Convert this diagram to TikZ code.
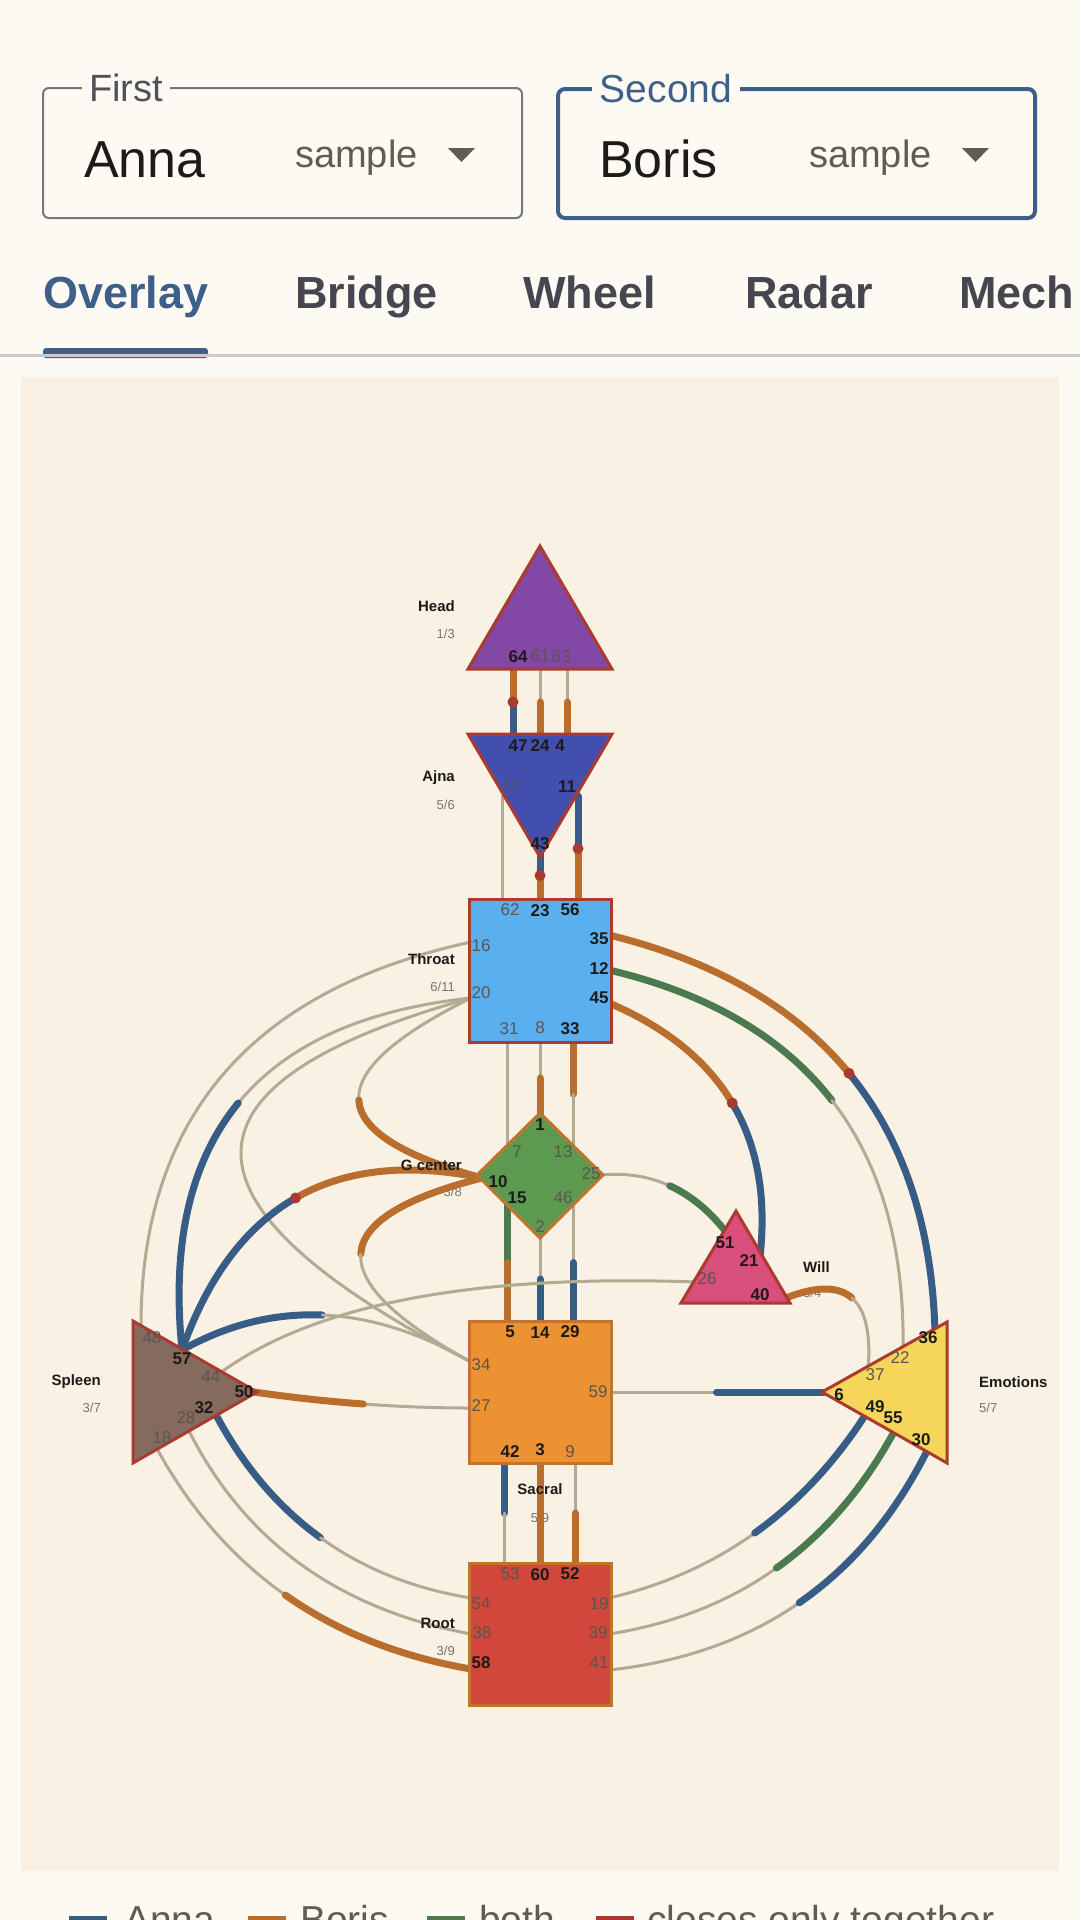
\documentclass[tikz,border=0pt]{standalone}
\usepackage{fontspec}
\setmainfont{Liberation Sans}
\usetikzlibrary{calc}

\definecolor{page}{HTML}{FDFAF3}
\definecolor{panel}{HTML}{F8F1E4}
\definecolor{annac}{HTML}{375D87}
\definecolor{borisc}{HTML}{B96E2E}
\definecolor{bothc}{HTML}{4A7A4E}
\definecolor{idlec}{HTML}{B4AA93}
\definecolor{togetherc}{HTML}{A83A2F}
\definecolor{rim}{HTML}{AB3B2F}
\definecolor{rimdef}{HTML}{C07430}
\definecolor{headc}{HTML}{8347A6}
\definecolor{ajnac}{HTML}{424FAE}
\definecolor{throatc}{HTML}{5AAFEE}
\definecolor{gc}{HTML}{5C9A4F}
\definecolor{willc}{HTML}{D84F7B}
\definecolor{spleenc}{HTML}{856A5F}
\definecolor{sacralc}{HTML}{EC9232}
\definecolor{emoc}{HTML}{F5D65A}
\definecolor{rootc}{HTML}{D1473B}
\definecolor{ink}{HTML}{1D1B1A}
\definecolor{dim}{HTML}{5A5550}
\definecolor{faint}{HTML}{7A746C}
\definecolor{uiblue}{HTML}{3D5F8A}
\definecolor{uigray}{HTML}{76767C}
\definecolor{labelgray}{HTML}{505056}
\definecolor{tabgray}{HTML}{45464F}
\definecolor{hint}{HTML}{625B52}
\definecolor{divider}{HTML}{CBCBCF}

\tikzset{
	annaline/.style={draw=annac, line width=7pt, line cap=round},
	borisline/.style={draw=borisc, line width=7pt, line cap=round},
	bothline/.style={draw=bothc, line width=7pt, line cap=round},
	idleline/.style={draw=idlec, line width=3pt, line cap=round},
	cbox/.style={line width=3pt, line join=miter},
	gon/.style={inner sep=0pt, text=ink, font=\fontsize{17}{17}\selectfont\bfseries},
	goff/.style={inner sep=0pt, text=dim, font=\fontsize{17}{17}\selectfont},
	cname/.style={inner sep=0pt, text=ink, font=\fontsize{15}{15}\selectfont\bfseries},
	cfrac/.style={inner sep=0pt, text=faint, font=\fontsize{13}{13}\selectfont},
	tab/.style={inner sep=0pt, anchor=base west, text=tabgray, font=\fontsize{45}{45}\selectfont\bfseries},
	legendtext/.style={inner sep=0pt, anchor=base west, text=hint, font=\fontsize{39}{39}\selectfont},
}

\newcommand\link[4]{%
	\coordinate (half) at ($(#1)!.5!(#2)$);
	\draw[#3] (#1) -- (half);
	\draw[#4] (half) -- (#2);
}
\newcommand\chan[5]{%
	\coordinate (qa) at ($(#1)!.5!(#2)$);
	\coordinate (qb) at ($(#3)!.5!(#2)$);
	\coordinate (half) at ($(qa)!.5!(qb)$);
	\draw[#4] (#1) .. controls ($(#1)!2/3!(qa)$) and ($(half)!2/3!(qa)$) .. (half);
	\draw[#5] (half) .. controls ($(half)!2/3!(qb)$) and ($(#3)!2/3!(qb)$) .. (#3);
}

\begin{document}
\begin{tikzpicture}[x=1pt,y=-1pt]
	\useasboundingbox (0,0) rectangle (1080,1920);
	\fill[page] (0,0) rectangle (1080,1920);
	\fill[panel] (21,377) rectangle (1059,1871);

	\draw[uigray, line width=2pt, rounded corners=6pt] (43,88) rectangle (522,218);
	\node[fill=page, inner xsep=7pt, inner ysep=0pt, text=labelgray, font=\fontsize{38}{38}\selectfont] (first) at (126,88) {First};
	\node[inner sep=0pt, anchor=base west, text=ink, font=\fontsize{52}{52}\selectfont] (anna) at (84,177) {Anna};
	\node[inner sep=0pt, anchor=base west, text=hint, font=\fontsize{38}{38}\selectfont] (annasample) at (295,167) {sample};
	\fill[hint] (448,148) -- (475,148) -- (461.5,162) -- cycle;

	\draw[uiblue, line width=4pt, rounded corners=7pt] (558,89) rectangle (1035,218);
	\node[fill=page, inner xsep=8pt, inner ysep=0pt, text=uiblue, font=\fontsize{39}{39}\selectfont] (second) at (666,89) {Second};
	\node[inner sep=0pt, anchor=base west, text=ink, font=\fontsize{52}{52}\selectfont] (boris) at (599,177) {Boris};
	\node[inner sep=0pt, anchor=base west, text=hint, font=\fontsize{38}{38}\selectfont] (borissample) at (809,167) {sample};
	\fill[hint] (962,148) -- (989,148) -- (975.5,162) -- cycle;

	\node[tab, text=uiblue] (overlay) at (43,308) {Overlay};
	\node[tab] (bridge) at (295,308) {Bridge};
	\node[tab] (wheel) at (523,308) {Wheel};
	\node[tab] (radar) at (745,308) {Radar};
	\node[tab] (mech) at (959,308) {Mech};
	\fill[uiblue, rounded corners=3pt] (43,348) rectangle (208,358);
	\fill[divider] (0,354) rectangle (1080,357);

	\fill[annac] (69,1916) rectangle (107,1940);
	\node[legendtext] (keyanna) at (124,1933) {Anna};
	\fill[borisc] (248,1916) rectangle (286,1940);
	\node[legendtext] (keyboris) at (300,1933) {Boris};
	\fill[bothc] (427,1916) rectangle (465,1940);
	\node[legendtext] (keyboth) at (479,1933) {both};
	\fill[togetherc] (596,1916) rectangle (634,1940);
	\node[legendtext] (keytogether) at (647,1933) {closes only together};

	\node[cfrac, anchor=east] (headfrac) at (455,634) {1/3};
	\node[cfrac, anchor=east] (ajnafrac) at (455,805) {5/6};
	\node[cfrac, anchor=east] (throatfrac) at (455,987) {6/11};
	\node[cfrac, anchor=east] (gfrac) at (462,1192) {3/8};
	\node[cfrac, anchor=west] (willfrac) at (803,1293) {3/4};
	\node[cfrac, anchor=east] (spleenfrac) at (101,1408) {3/7};
	\node[cfrac, anchor=west] (emofrac) at (979,1408) {5/7};
	\node[cfrac] (sacralfrac) at (540,1518) {5/9};
	\node[cfrac, anchor=east] (rootfrac) at (455,1651) {3/9};

	\coordinate (g64) at (513,668);
	\coordinate (g61) at (540,668);
	\coordinate (g63) at (567,668);
	\coordinate (g47) at (513,736);
	\coordinate (g24) at (540,736);
	\coordinate (g4) at (567,736);
	\coordinate (g17) at (502,796);
	\coordinate (g11) at (578,796);
	\coordinate (g43) at (540,850);
	\coordinate (g62) at (502,901);
	\coordinate (g23) at (540,901);
	\coordinate (g56) at (578,901);
	\coordinate (g16) at (471,942);
	\coordinate (g20) at (471,998);
	\coordinate (g35) at (609,935);
	\coordinate (g12) at (609,970);
	\coordinate (g45) at (609,1003);
	\coordinate (g31) at (507,1040);
	\coordinate (g8) at (540,1040);
	\coordinate (g33) at (573,1040);
	\coordinate (g1) at (540,1116);
	\coordinate (g7) at (507,1148);
	\coordinate (g13) at (573,1148);
	\coordinate (g10) at (482,1178);
	\coordinate (g25) at (601,1175);
	\coordinate (g15) at (507,1202);
	\coordinate (g46) at (573,1202);
	\coordinate (g2) at (540,1235);
	\coordinate (g51) at (726,1232);
	\coordinate (g21) at (760,1257);
	\coordinate (g26) at (696,1282);
	\coordinate (g40) at (786,1298);
	\coordinate (g48) at (141,1328);
	\coordinate (g57) at (182,1350);
	\coordinate (g44) at (220,1373);
	\coordinate (g50) at (254,1392);
	\coordinate (g32) at (215,1413);
	\coordinate (g28) at (188,1429);
	\coordinate (g18) at (156,1447);
	\coordinate (g5) at (507,1323);
	\coordinate (g14) at (540,1323);
	\coordinate (g29) at (573,1323);
	\coordinate (g34) at (471,1362);
	\coordinate (g27) at (471,1408);
	\coordinate (g59) at (609,1392);
	\coordinate (g42) at (504,1461);
	\coordinate (g3) at (540,1461);
	\coordinate (g9) at (575,1461);
	\coordinate (g36) at (935,1332);
	\coordinate (g22) at (903,1350);
	\coordinate (g37) at (868,1370);
	\coordinate (g6) at (824,1392);
	\coordinate (g49) at (866,1414);
	\coordinate (g55) at (895,1430);
	\coordinate (g30) at (928,1449);
	\coordinate (g53) at (504,1565);
	\coordinate (g60) at (540,1565);
	\coordinate (g52) at (575,1565);
	\coordinate (g54) at (471,1598);
	\coordinate (g38) at (471,1634);
	\coordinate (g58) at (471,1669);
	\coordinate (g19) at (609,1598);
	\coordinate (g39) at (609,1634);
	\coordinate (g41) at (609,1670);

	\link{g64}{g47}{borisline}{annaline}
	\fill[togetherc] (half) circle[radius=5.5pt];
	\link{g61}{g24}{idleline}{borisline}
	\link{g63}{g4}{idleline}{borisline}
	\link{g17}{g62}{idleline}{idleline}
	\link{g43}{g23}{annaline}{borisline}
	\fill[togetherc] (half) circle[radius=5.5pt];
	\link{g11}{g56}{annaline}{borisline}
	\fill[togetherc] (half) circle[radius=5.5pt];
	\link{g31}{g7}{idleline}{idleline}
	\link{g8}{g1}{idleline}{borisline}
	\link{g33}{g13}{borisline}{idleline}
	\link{g15}{g5}{bothline}{borisline}
	\link{g2}{g14}{idleline}{annaline}
	\link{g46}{g29}{idleline}{annaline}
	\link{g42}{g53}{annaline}{idleline}
	\link{g3}{g60}{borisline}{borisline}
	\link{g9}{g52}{idleline}{borisline}
	\link{g59}{g6}{idleline}{annaline}

	\chan{g35}{926,1013}{g36}{borisline}{annaline}
	\fill[togetherc] (half) circle[radius=5.5pt];
	\chan{g12}{908,1041}{g22}{bothline}{idleline}
	\chan{g45}{780,1076}{g21}{borisline}{annaline}
	\fill[togetherc] (half) circle[radius=5.5pt];
	\chan{g25}{676,1168}{g51}{idleline}{bothline}
	\chan{g40}{877,1262}{g37}{borisline}{idleline}
	\chan{g19}{772,1560}{g49}{idleline}{annaline}
	\chan{g39}{801,1604}{g55}{idleline}{bothline}
	\chan{g41}{830,1646}{g30}{idleline}{annaline}
	\chan{g16}{140,1014}{g48}{idleline}{idleline}
	\chan{g20}{150,1032}{g57}{idleline}{annaline}
	\chan{g20}{241,1112}{g10}{idleline}{borisline}
	\chan{g20}{11,1126}{g34}{idleline}{idleline}
	\chan{g10}{259,1132}{g57}{borisline}{annaline}
	\fill[togetherc] (half) circle[radius=5.5pt];
	\chan{g10}{245,1238}{g34}{borisline}{idleline}
	\chan{g57}{318,1274}{g34}{annaline}{idleline}
	\chan{g26}{361,1270}{g44}{idleline}{idleline}
	\chan{g27}{364,1408}{g50}{idleline}{borisline}
	\chan{g32}{298,1570}{g54}{annaline}{idleline}
	\chan{g28}{272,1597}{g38}{idleline}{idleline}
	\chan{g18}{257,1632}{g58}{idleline}{borisline}

	\node[cname, anchor=east] (headname) at (455,606) {Head};
	\node[cname, anchor=east] (ajnaname) at (455,778) {Ajna};
	\node[cname, anchor=east] (throatname) at (455,959) {Throat};
	\node[cname, anchor=east] (gname) at (462,1165) {G center};
	\node[cname, anchor=west] (willname) at (803,1267) {Will};
	\node[cname, anchor=east] (spleenname) at (101,1382) {Spleen};
	\node[cname, anchor=west] (emoname) at (979,1382) {Emotions};
	\node[cname] (sacralname) at (540,1489) {Sacral};
	\node[cname, anchor=east] (rootname) at (455,1623) {Root};

	\filldraw[cbox, fill=headc, draw=rim] (540,546) -- (612,669) -- (468,669) -- cycle;
	\filldraw[cbox, fill=ajnac, draw=rim] (468,734) -- (612,734) -- (540,857) -- cycle;
	\filldraw[cbox, fill=throatc, draw=rim] (469,899) rectangle (611,1042);
	\filldraw[cbox, fill=gc, draw=rimdef] (540,1113) -- (603,1175) -- (540,1238) -- (477,1175) -- cycle;
	\filldraw[cbox, fill=willc, draw=rim] (736,1211) -- (790,1303) -- (681,1303) -- cycle;
	\filldraw[cbox, fill=spleenc, draw=rim] (133,1321) -- (257,1392) -- (133,1463) -- cycle;
	\filldraw[cbox, fill=sacralc, draw=rimdef] (469,1321) rectangle (611,1463);
	\filldraw[cbox, fill=emoc, draw=rim] (822,1392) -- (947,1322) -- (947,1463) -- cycle;
	\filldraw[cbox, fill=rootc, draw=rimdef] (469,1563) rectangle (611,1705);

	\node[gon] (n64) at (518,657) {64};
	\node[goff] (n61) at (540,656) {61};
	\node[goff] (n63) at (561,657) {63};
	\node[gon] (n47) at (518,746) {47};
	\node[gon] (n24) at (540,746) {24};
	\node[gon] (n4) at (560,746) {4};
	\node[goff] (n17) at (512,787) {17};
	\node[gon] (n11) at (567,787) {11};
	\node[gon] (n43) at (540,844) {43};
	\node[goff] (n62) at (510,910) {62};
	\node[gon] (n23) at (540,911) {23};
	\node[gon] (n56) at (570,910) {56};
	\node[goff] (n16) at (481,946) {16};
	\node[gon] (n35) at (599,939) {35};
	\node[gon] (n12) at (599,969) {12};
	\node[goff] (n20) at (481,993) {20};
	\node[gon] (n45) at (599,998) {45};
	\node[goff] (n31) at (509,1029) {31};
	\node[goff] (n8) at (540,1028) {8};
	\node[gon] (n33) at (570,1029) {33};
	\node[gon] (n1) at (540,1125) {1};
	\node[goff] (n7) at (517,1152) {7};
	\node[goff] (n13) at (563,1152) {13};
	\node[gon] (n10) at (498,1182) {10};
	\node[goff] (n25) at (591,1174) {25};
	\node[gon] (n15) at (517,1198) {15};
	\node[goff] (n46) at (563,1198) {46};
	\node[goff] (n2) at (540,1227) {2};
	\node[gon] (n51) at (725,1243) {51};
	\node[gon] (n21) at (749,1261) {21};
	\node[goff] (n26) at (707,1279) {26};
	\node[gon] (n40) at (760,1295) {40};
	\node[goff] (n48) at (152,1338) {48};
	\node[gon] (n57) at (182,1359) {57};
	\node[goff] (n44) at (211,1377) {44};
	\node[gon] (n50) at (244,1392) {50};
	\node[gon] (n32) at (204,1408) {32};
	\node[goff] (n28) at (186,1418) {28};
	\node[goff] (n18) at (162,1438) {18};
	\node[gon] (n5) at (510,1332) {5};
	\node[gon] (n14) at (540,1333) {14};
	\node[gon] (n29) at (570,1332) {29};
	\node[goff] (n34) at (481,1365) {34};
	\node[goff] (n27) at (481,1406) {27};
	\node[goff] (n59) at (598,1392) {59};
	\node[gon] (n42) at (510,1452) {42};
	\node[gon] (n3) at (540,1450) {3};
	\node[goff] (n9) at (570,1452) {9};
	\node[gon] (n36) at (928,1338) {36};
	\node[goff] (n22) at (900,1358) {22};
	\node[goff] (n37) at (875,1375) {37};
	\node[gon] (n6) at (839,1395) {6};
	\node[gon] (n49) at (875,1407) {49};
	\node[gon] (n55) at (893,1418) {55};
	\node[gon] (n30) at (921,1440) {30};
	\node[goff] (n53) at (510,1574) {53};
	\node[gon] (n60) at (540,1575) {60};
	\node[gon] (n52) at (570,1574) {52};
	\node[goff] (n54) at (481,1604) {54};
	\node[goff] (n38) at (482,1633) {38};
	\node[gon] (n58) at (481,1663) {58};
	\node[goff] (n19) at (599,1604) {19};
	\node[goff] (n39) at (598,1633) {39};
	\node[goff] (n41) at (599,1663) {41};
\end{tikzpicture}
\end{document}
